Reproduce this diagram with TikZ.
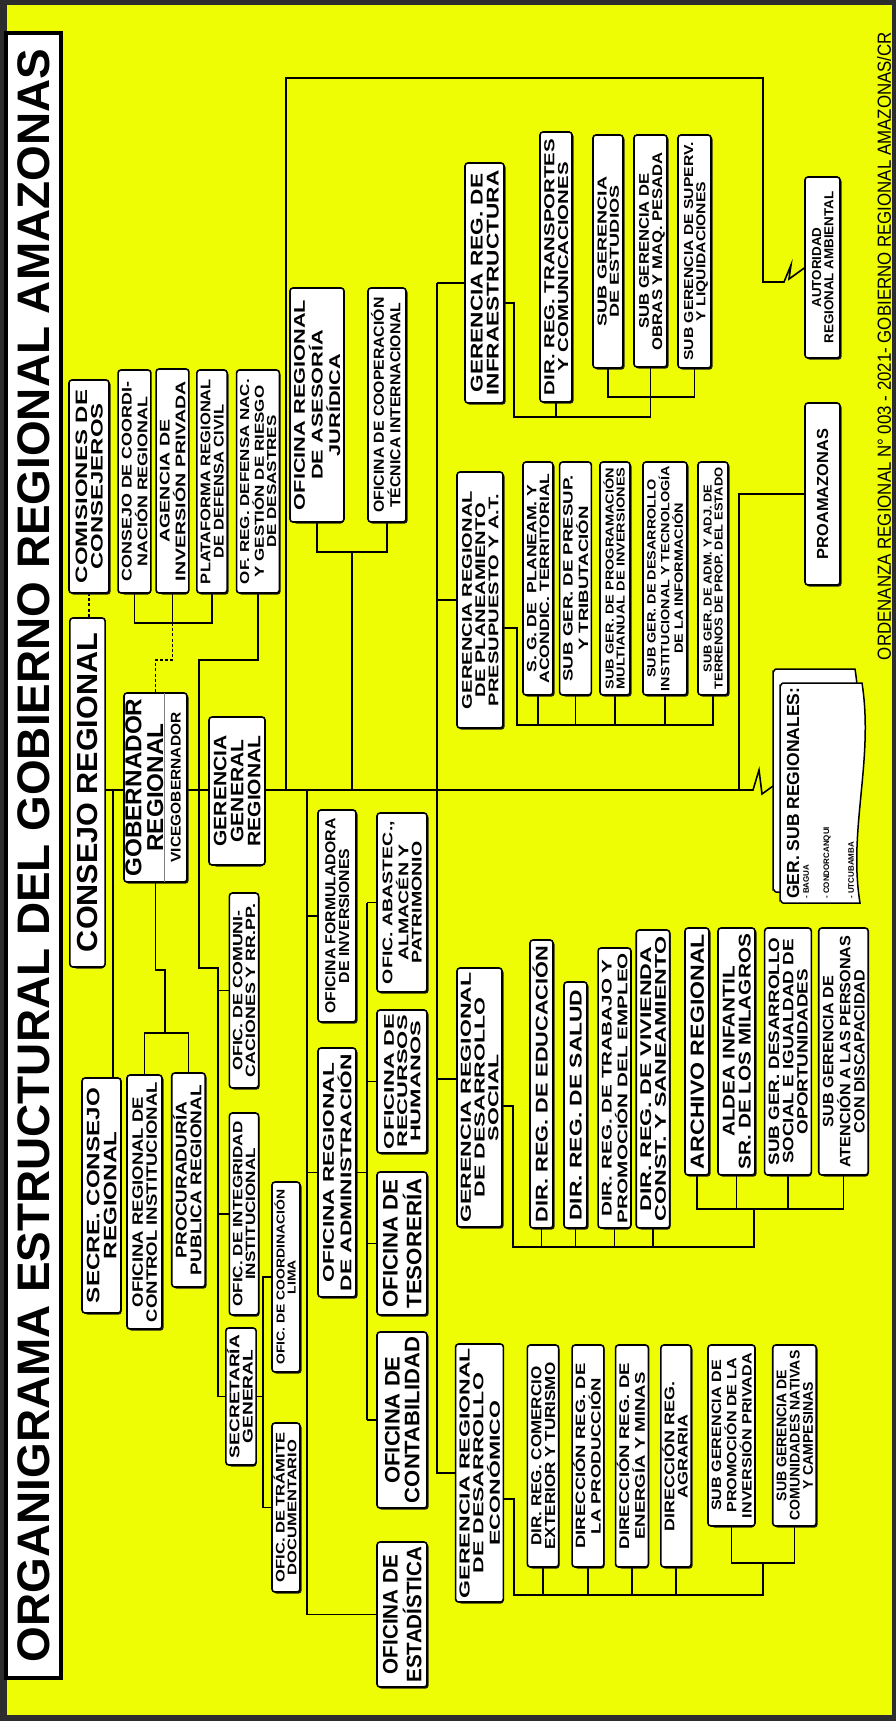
\documentclass[tikz,border=0pt]{standalone}
\usepackage{fontspec}
\setmainfont{Liberation Sans}
\usepackage{graphicx}
\definecolor{ylw}{RGB}{238,252,4}
\definecolor{edge}{RGB}{45,45,45}
\definecolor{shadowc}{RGB}{30,30,30}
\pgfdeclarelayer{bgl}
\pgfdeclarelayer{lines}
\pgfsetlayers{bgl,lines,main}
\newcommand\T[3]{\resizebox{#2pt}{\height}{\fontsize{#1}{#1}\selectfont\def\arraystretch{0.83}\begin{tabular}{@{}c@{}}\rule{0pt}{0.965em}#3\end{tabular}}}
\newcommand\ob[8]{%
 \pgfmathsetmacro\cx{(#2+#4)/2}\pgfmathsetmacro\cy{(#3+#5)/2}%
 \pgfmathsetmacro\ww{#5-#3}\pgfmathsetmacro\hh{#4-#2}%
 \fill[shadowc, rounded corners=3pt] ({#2+1.6},{#3+1.6}) rectangle ({#4+1.6},{#5+1.6});
 \node[ob, minimum width=\ww pt, minimum height=\hh pt] (#1) at (\cx,\cy) {\T{#6}{#7}{#8}};}
\begin{document}
\begin{tikzpicture}[x=1pt,y=-1pt,
 ob/.style={draw, line width=1.6pt, fill=white, rounded corners=3pt, rotate=90, inner sep=0pt, outer sep=0pt, font=\bfseries},
 ln/.style={line width=1.6pt},
 dsh/.style={line width=1.6pt, dash pattern=on 3pt off 2.2pt},
 txt/.style={rotate=90, inner sep=0pt, font=\bfseries}]
\useasboundingbox (0,0) rectangle (896,1721);
\begin{pgfonlayer}{bgl}
\fill[edge] (0,0) rectangle (896,1721);
\fill[ylw] (7,5) rectangle (892,1715);
\end{pgfonlayer}

% title
\node[draw, line width=3.5pt, fill=white, rotate=90, minimum width=1645pt, minimum height=49pt, inner sep=0pt, font=\bfseries] (title) at (33.5,855.5)
 {\T{45.6}{1613}{ORGANIGRAMA ESTRUCTURAL DEL GOBIERNO REGIONAL AMAZONAS}};
% footer
\node[rotate=90, inner sep=0pt, font=\mdseries] (footer) at (884,346)
 {\resizebox{628pt}{\height}{\fontsize{19}{19}\selectfont ORDENANZA REGIONAL N° 003 - 2021- GOBIERNO REGIONAL AMAZONAS/CR}};

% top level
\ob{comisiones}{69}{380}{109}{593}{16.5}{193}{COMISIONES DE\\CONSEJEROS}
\ob{consejo}{72}{618}{103}{967}{29}{319}{CONSEJO REGIONAL}
\ob{coord}{120}{370}{149}{593}{14}{200}{CONSEJO DE COORDI-\\NACIÓN REGIONAL}
\ob{agencia}{158}{369}{187}{593}{14}{200}{AGENCIA DE\\INVERSIÓN PRIVADA}
\ob{plataforma}{197}{370}{227}{593}{14}{205}{PLATAFORMA REGIONAL\\DE DEFENSA CIVIL}
\ob{ofdefensa}{237}{370}{279}{593}{13}{205}{OF. REG. DEFENSA NAC.\\Y GESTIÓN DE RIESGO\\DE DESASTRES}
% gobernador
\fill[shadowc, rounded corners=3pt] (125.6,694.6) rectangle (188.6,883.6);
\node[ob, minimum width=189pt, minimum height=63pt] (gobernador) at (155.5,787.5) {};
\node[txt] (gobtext) at (144,787.5) {\T{23}{178}{GOBERNADOR\\REGIONAL}};
\node[txt] (vicetext) at (175.5,787.5) {\T{14}{150}{VICEGOBERNADOR}};
\draw[gray, line width=0.8pt] (gobernador.north east -| 164,0) -- (gobernador.north west -| 164,0);
\ob{gergen}{212}{717}{262}{865}{18}{111}{GERENCIA\\GENERAL\\REGIONAL}
\ob{secre}{83}{1078}{120}{1313}{18}{215}{SECRE. CONSEJO\\REGIONAL}
\ob{control}{127}{1075}{162}{1329}{15}{240}{OFICINA REGIONAL DE\\CONTROL INSTITUCIONAL}
\ob{procuraduria}{172}{1073}{205}{1287}{15.5}{190}{PROCURADURÍA\\PUBLICA REGIONAL}
\ob{comunic}{230}{893}{258}{1088}{13.5}{173}{OFIC. DE COMUNI-\\CACIONES Y RR.PP.}
\ob{integridad}{230}{1113}{258}{1315}{13.5}{185}{OFIC. DE INTEGRIDAD\\INSTITUCIONAL}
\ob{lima}{272}{1182}{300}{1372}{11.5}{175}{OFIC. DE COORDINACIÓN\\LIMA}
\ob{secgen}{227}{1328}{255}{1465}{14}{123}{SECRETARÍA\\GENERAL}
\ob{tramite}{272}{1423}{300}{1592}{12.5}{150}{OFIC. DE TRÁMITE\\DOCUMENTARIO}
% advisory
\ob{juridica}{292}{288}{342}{522}{15.5}{210}{OFICINA REGIONAL\\DE ASESORÍA\\JURÍDICA}
\ob{cooperacion}{368}{288}{406}{522}{14.5}{215}{OFICINA DE COOPERACIÓN\\TÉCNICA INTERNACIONAL}
% infraestructura
\ob{infra}{465}{163}{504}{403}{17}{225}{GERENCIA REG. DE\\INFRAESTRUCTURA}
\ob{transportes}{540}{132}{572}{402}{14.5}{256}{DIR. REG. TRANSPORTES\\Y COMUNICACIONES}
\ob{estudios}{593}{135}{623}{368}{13}{150}{SUB GERENCIA\\DE ESTUDIOS}
\ob{obras}{634}{135}{667}{367}{14}{198}{SUB GERENCIA DE\\OBRAS Y MAQ. PESADA}
\ob{superv}{678}{135}{711}{368}{13}{218}{SUB GERENCIA DE SUPERV.\\Y LIQUIDACIONES}
\ob{autoridad}{805}{177}{840}{358}{13}{152}{AUTORIDAD\\REGIONAL AMBIENTAL}
% planeamiento
\ob{planeam}{457}{472}{503}{728}{14}{218}{GERENCIA REGIONAL\\DE PLANEAMIENTO\\PRESUPUESTO Y A.T.}
\ob{sgplaneam}{523}{462}{553}{695}{13.5}{210}{S. G. DE\ \ PLANEAM. Y\\ACONDIC. TERRITORIAL}
\ob{presup}{561}{462}{590}{695}{13.5}{206}{SUB GER. DE PRESUP.\\Y TRIBUTACIÓN}
\ob{programacion}{600}{462}{630}{695}{11.5}{222}{SUB GER. DE PROGRAMACIÓN\\MULTIANUAL DE INVERSIONES}
\ob{desinst}{643}{462}{687}{695}{12}{225}{SUB GER. DE DESARROLLO\\INSTITUCIONAL Y TECNOLOGÍA\\DE LA INFORMACIÓN}
\ob{adm}{698}{462}{728}{695}{11.5}{222}{SUB GER. DE ADM. Y ADJ. DE\\TERRENOS DE PROP. DEL ESTADO}
\ob{proam}{805}{403}{840}{585}{16}{130}{PROAMAZONAS}
% administracion
\ob{formuladora}{318}{810}{356}{1022}{14.5}{195}{OFICINA FORMULADORA\\DE INVERSIONES}
\ob{admin}{318}{1048}{356}{1297}{15.5}{237}{OFICINA REGIONAL\\DE ADMINISTRACIÓN}
\ob{abastec}{377}{813}{427}{992}{14}{163}{OFIC. ABASTEC.,\\ALMACÉN Y\\PATRIMONIO}
\ob{rrhh}{377}{1010}{427}{1153}{14}{135}{OFICINA DE\\RECURSOS\\HUMANOS}
\ob{tesoreria}{377}{1172}{427}{1315}{21}{130}{OFICINA DE\\TESORERÍA}
\ob{contab}{377}{1332}{427}{1508}{21}{166}{OFICINA DE\\CONTABILIDAD}
\ob{estadistica}{377}{1542}{427}{1687}{21}{136}{OFICINA DE\\ESTADÍSTICA}
% desarrollo social
\ob{dessocial}{457}{968}{502}{1227}{14.5}{250}{GERENCIA REGIONAL\\DE DESARROLLO\\SOCIAL}
\ob{educacion}{530}{940}{553}{1228}{17}{276}{DIR. REG. DE EDUCACIÓN}
\ob{salud}{564}{982}{587}{1228}{17}{231}{DIR. REG. DE SALUD}
\ob{trabajo}{600}{948}{629}{1228}{14}{270}{DIR. REG. DE TRABAJO Y\\PROMOCIÓN DEL EMPLEO}
\ob{vivienda}{637}{930}{669}{1228}{15.5}{285}{DIR. REG. DE VIVIENDA\\CONST. Y SANEAMIENTO}
\ob{archivo}{685}{928}{709}{1175}{19}{235}{ARCHIVO REGIONAL}
\ob{aldea}{718}{928}{755}{1175}{17}{235}{ALDEA INFANTIL\\SR. DE LOS MILAGROS}
\ob{sgdesoc}{766}{928}{810}{1175}{15}{228}{SUB GER. DESARROLLO\\SOCIAL E IGUALDAD DE\\OPORTUNIDADES}
\ob{discap}{820}{928}{867}{1175}{15}{232}{SUB GERENCIA DE\\ATENCIÓN A LAS PERSONAS\\CON DISCAPACIDAD}
% desarrollo economico
\ob{deseco}{457}{1344}{502}{1602}{14.5}{250}{GERENCIA REGIONAL\\DE DESARROLLO\\ECONÓMICO}
\ob{comercio}{528}{1345}{558}{1567}{14.5}{187}{DIR. REG. COMERCIO\\EXTERIOR Y TURISMO}
\ob{produccion}{573}{1345}{603}{1567}{13.5}{185}{DIRECCIÓN REG. DE\\LA PRODUCCIÓN}
\ob{energia}{617}{1345}{647}{1567}{14}{186}{DIRECCIÓN REG. DE\\ENERGÍA Y MINAS}
\ob{agraria}{661}{1345}{691}{1567}{14}{150}{DIRECCIÓN REG.\\AGRARIA}
\ob{promocion}{710}{1345}{753}{1526}{13.5}{165}{SUB GERENCIA DE\\PROMOCIÓN DE LA\\INVERSIÓN PRIVADA}
\ob{comunidades}{773}{1345}{816}{1526}{14}{170}{SUB GERENCIA DE\\COMUNIDADES NATIVAS\\Y CAMPESINAS}

% sub regionales (stacked document shape)
\draw[fill=white, line width=1.5pt] (853,892) -- (776,892) to[out=180,in=90] (773,889) -- (773,672) to[out=-90,in=180] (776,669) -- (855,669) .. controls (867,746) and (841,816) .. (853,892) -- cycle;
\draw[fill=white, line width=1.5pt] (860,903) -- (783,903) to[out=180,in=90] (780,900) -- (780,686) to[out=-90,in=180] (783,683) -- (862,683) .. controls (874,760) and (848,830) .. (860,903) -- cycle;
\coordinate (subin) at (773,786);
\node[txt, anchor=west] (subreg) at (793,899) {\resizebox{211pt}{\height}{\fontsize{17.5}{17.5}\selectfont GER. SUB REGIONALES:}};
\node[txt, anchor=west] (bagua) at (806,899) {\fontsize{8}{8}\selectfont - BAGUA};
\node[txt, anchor=west] (condor) at (827,899) {\fontsize{8}{8}\selectfont - CONDORCANQUI};
\node[txt, anchor=west] (utcu) at (851,899) {\fontsize{8}{8}\selectfont - UTCUBAMBA};

\begin{pgfonlayer}{lines}
% main spine
\draw[ln] (consejo.south |- 0,790) -- (753,790) -- (759,770) -- (762,794) -- (subin);
% consejo / comisiones
\draw[dsh] (comisiones.west) -- (comisiones.west |- consejo.east);
\draw[ln] (coord.west) |- (plataforma.west |- 0,623) -- (plataforma.west);
\draw[ln] (agencia.west) -- (agencia.west |- 0,623);
\draw[dsh] (agencia.west |- 0,623) -- (agencia.west |- 0,660) -| (gobernador.east);
% defensa nacional chain
\draw[ln] (ofdefensa.west) |- (199,660) -- (199,968) -- (218,968) |- (secgen.north);
\draw[ln] (comunic.north -| 218,0) -- (comunic.north);
\draw[ln] (integridad.north -| 218,0) -- (integridad.north);
\draw[ln] (secgen.south) -- (secgen.south -| 263,0);
\draw[ln] (lima.north) -- (lima.north -| 263,0) -- (tramite.north -| 263,0) -- (tramite.north);
% secre consejo
\draw[ln] (113,790) -- (secre.east -| 113,0);
% gobernador group
\draw[ln] (gobernador.west) |- (165,970) -- (165,1033);
\draw[ln] (control.east) |- (procuraduria.east |- 0,1033) -- (procuraduria.east);
% advisory
\draw[ln] (juridica.west) |- (cooperacion.west |- 0,552) -- (cooperacion.west);
\draw[ln] (352,552) -- (352,790);
% autoridad ambiental
\draw[ln] (286,790) -- (286,78) -- (763,78) -- (763,282) -- (784,282) -- (791,265) -- (789,279) -- (autoridad.north);
% gerencias trunk
\draw[ln] (infra.north -| 437,0) -- (deseco.north -| 437,0) -- (deseco.north);
\draw[ln] (infra.north -| 437,0) -- (infra.north);
\draw[ln] (planeam.north -| 437,0) -- (planeam.north);
\draw[ln] (437,1079) -- (dessocial.north |- 0,1079);
% infraestructura children
\draw[ln] (infra.south |- 0,303) -- (514,303) |- (obras.west |- 0,417) -- (obras.west);
\draw[ln] (transportes.west) -- (transportes.west |- 0,417);
\draw[ln] (estudios.west) |- (superv.west |- 0,397) -- (superv.west);
% planeamiento children
\draw[ln] (planeam.south |- 0,628) -- (517,628) |- (adm.west |- 0,725) -- (adm.west);
\foreach \n in {sgplaneam,presup,programacion,desinst}
  \draw[ln] (\n.west) -- (\n.west |- 0,725);
% desarrollo social children
\draw[ln] (dessocial.south |- 0,1106) -- (513,1106) |- (754,1247) -- (754,1209);
\foreach \n in {educacion,salud,trabajo,vivienda}
  \draw[ln] (\n.west) -- (\n.west |- 0,1247);
\draw[ln] (archivo.west) |- (discap.west |- 0,1209) -- (discap.west);
\foreach \n in {aldea,sgdesoc}
  \draw[ln] (\n.west) -- (\n.west |- 0,1209);
% desarrollo economico children
\draw[ln] (deseco.south |- 0,1499) -- (514,1499) |- (763,1595) -- (763,1563);
\foreach \n in {comercio,produccion,energia,agraria}
  \draw[ln] (\n.west) -- (\n.west |- 0,1595);
\draw[ln] (promocion.west) |- (comunidades.west |- 0,1563) -- (comunidades.west);
% administracion line
\draw[ln] (307,790) |- (estadistica.north);
\foreach \n in {formuladora,admin}
  \draw[ln] (\n.north -| 307,0) -- (\n.north);
\draw[ln] (admin.south) -- (admin.south -| 367,0);
\draw[ln] (abastec.north -| 367,0) -- (contab.north -| 367,0);
\foreach \n in {abastec,rrhh,tesoreria,contab}
  \draw[ln] (\n.north -| 367,0) -- (\n.north);
% proamazonas
\draw[ln] (739,790) |- (proam.north);
\end{pgfonlayer}
\end{tikzpicture}
\end{document}
